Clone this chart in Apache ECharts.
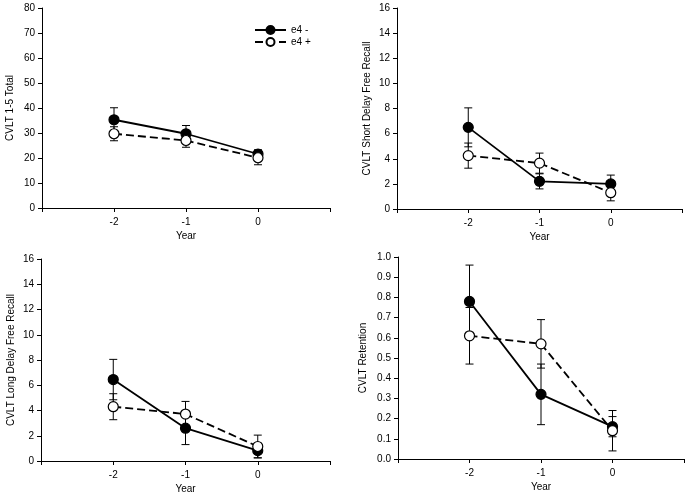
<!DOCTYPE html>
<html><head><meta charset="utf-8">
<script src="https://cdn.jsdelivr.net/npm/echarts@6/dist/echarts.min.js"></script>
<style>html,body{margin:0;padding:0;background:#fff}#c{width:694px;height:499px}</style>
</head><body><div id="c"></div>
<script>
// ---- data ----
const years = [-2, -1, 0];
const seriesNames = ['e4 -', 'e4 +'];
const yTitles = ['CVLT 1-5 Total', 'CVLT Short Delay Free Recall', 'CVLT Long Delay Free Recall', 'CVLT Retention'];
// panel 1: CVLT 1-5 Total
const total_neg = [35.3, 29.7, 21.6];
const total_negErr = [4.8, 3.3, 1.7];
const total_pos = [29.7, 27.0, 20.1];
const total_posErr = [2.8, 2.7, 2.8];
// panel 2: Short delay free recall
const short_neg = [6.5, 2.2, 2.0];
const short_negErr = [1.55, 0.6, 0.7];
const short_pos = [4.25, 3.65, 1.3];
const short_posErr = [1.0, 0.8, 0.65];
// panel 3: Long delay free recall
const long_neg = [6.45, 2.6, 0.82];
const long_negErr = [1.6, 1.3, 0.57];
const long_pos = [4.3, 3.72, 1.15];
const long_posErr = [1.03, 1.0, 0.9];
// panel 4: Retention
const ret_neg = [0.78, 0.32, 0.16];
const ret_negErr = [0.18, 0.15, 0.05];
const ret_pos = [0.61, 0.57, 0.14];
const ret_posErr = [0.14, 0.12, 0.10];
// y axis ranges
const yMax = [80, 16, 16, 1.0];
const yInterval = [10, 2, 2, 0.1];

const panels = [
  {neg: total_neg, negErr: total_negErr, pos: total_pos, posErr: total_posErr},
  {neg: short_neg, negErr: short_negErr, pos: short_pos, posErr: short_posErr},
  {neg: long_neg, negErr: long_negErr, pos: long_pos, posErr: long_posErr},
  {neg: ret_neg, negErr: ret_negErr, pos: ret_pos, posErr: ret_posErr}
];

const grids = [
  {left: 42, top: 8, width: 288, height: 200},
  {left: 397, top: 8, width: 285, height: 201},
  {left: 41, top: 259, width: 289, height: 202},
  {left: 398, top: 257, width: 286, height: 202}
];

const font = 'Liberation Sans';
const txt = {color: '#000', fontFamily: font, fontSize: 10};

const xAxes = [], yAxes = [], series = [];
panels.forEach((p, i) => {
  xAxes.push({
    type: 'value', gridIndex: i, min: -3, max: 1, interval: 1,
    name: 'Year', nameLocation: 'middle', nameGap: 23, nameTextStyle: txt,
    axisLine: {show: true, onZero: false, lineStyle: {color: '#000', width: 1}},
    axisTick: {show: true, length: 4, lineStyle: {color: '#000'}},
    axisLabel: Object.assign({}, txt, {margin: 9, formatter: v => (v >= -2 && v <= 0) ? String(v) : ''}),
    splitLine: {show: false}
  });
  yAxes.push({
    type: 'value', gridIndex: i, min: 0, max: yMax[i], interval: yInterval[i],
    name: yTitles[i], nameLocation: 'middle', nameGap: i === 3 ? 30 : (i === 0 ? 27 : 25), nameTextStyle: txt,
    axisLine: {show: true, onZero: false, lineStyle: {color: '#000', width: 1}},
    axisTick: {show: true, length: 4, lineStyle: {color: '#000'}},
    axisLabel: Object.assign({}, txt, {margin: 7, formatter: v => i === 3 ? v.toFixed(1) : String(v)}),
    splitLine: {show: false}
  });
  const groups = [
    {vals: p.neg, err: p.negErr, name: seriesNames[0], fill: '#000', dash: 'solid'},
    {vals: p.pos, err: p.posErr, name: seriesNames[1], fill: '#fff', dash: [8, 4]}
  ];
  groups.forEach(g => {
    series.push({
      type: 'custom', xAxisIndex: i, yAxisIndex: i, z: 1, silent: true,
      name: g.name + ' err',
      data: years.map((x, k) => [x, g.vals[k] - g.err[k], g.vals[k] + g.err[k]]),
      encode: {x: 0, y: [1, 2]},
      renderItem: function (params, api) {
        const lo = api.coord([api.value(0), api.value(1)]);
        const hi = api.coord([api.value(0), api.value(2)]);
        const cw = 4;
        const st = {stroke: '#000', lineWidth: 1};
        return {type: 'group', children: [
          {type: 'line', shape: {x1: lo[0], y1: lo[1], x2: hi[0], y2: hi[1]}, style: st},
          {type: 'line', shape: {x1: lo[0] - cw, y1: lo[1], x2: lo[0] + cw, y2: lo[1]}, style: st},
          {type: 'line', shape: {x1: hi[0] - cw, y1: hi[1], x2: hi[0] + cw, y2: hi[1]}, style: st}
        ]};
      }
    });
    series.push({
      type: 'line', xAxisIndex: i, yAxisIndex: i, z: 3, name: g.name,
      data: years.map((x, k) => [x, g.vals[k]]),
      symbol: 'circle', symbolSize: 10,
      itemStyle: {color: g.fill, borderColor: '#000', borderWidth: 1.2},
      lineStyle: {color: '#000', width: 1.8, type: g.dash},
      animation: false
    });
  });
});

const chart = echarts.init(document.getElementById('c'), null, {renderer: 'canvas'});
chart.setOption({
  animation: false,
  backgroundColor: '#fff',
  grid: grids,
  xAxis: xAxes,
  yAxis: yAxes,
  legend: {
    data: seriesNames, orient: 'vertical', left: 249, top: 20, itemGap: 2,
    itemWidth: 31, itemHeight: 10, textStyle: txt, selectedMode: false
  },
  series: series
});
</script></body></html>
